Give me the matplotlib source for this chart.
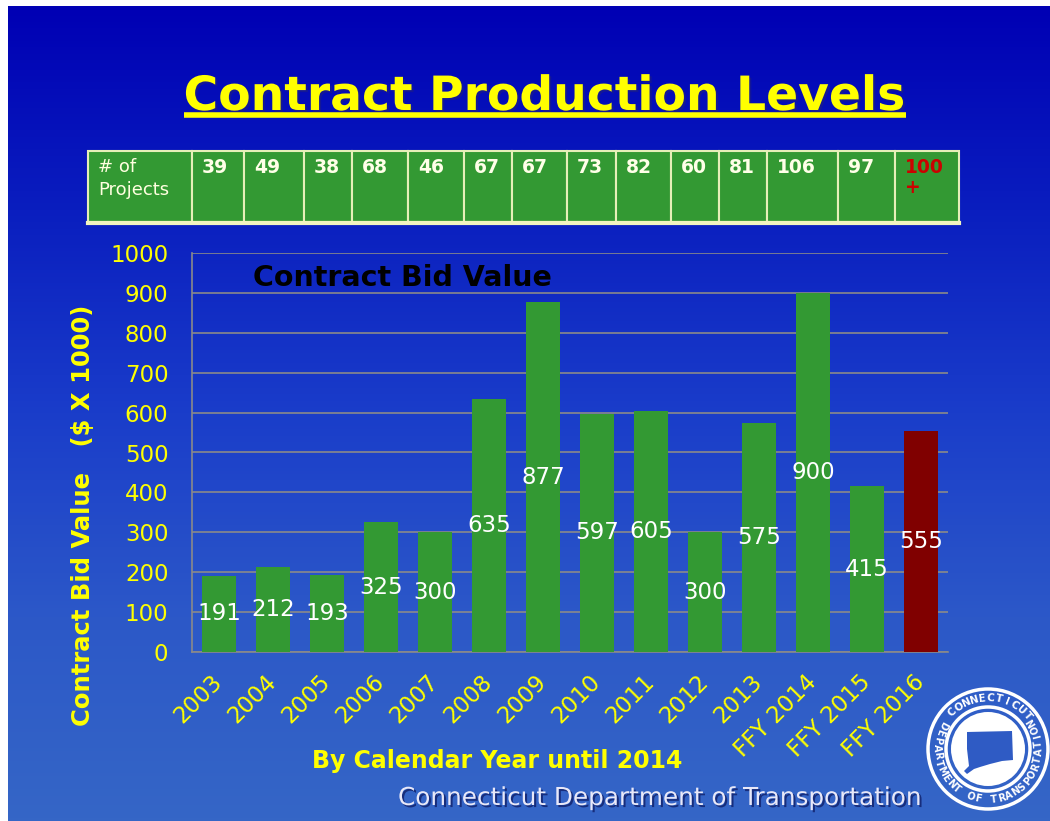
import numpy as np
import matplotlib.pyplot as plt
from matplotlib.colors import LinearSegmentedColormap
from matplotlib.patches import Rectangle, Circle, Polygon
import matplotlib.patheffects as pe

# data
years = ['2003', '2004', '2005', '2006', '2007', '2008', '2009', '2010',
         '2011', '2012', '2013', 'FFY 2014', 'FFY 2015', 'FFY 2016']
bid_values = [191, 212, 193, 325, 300, 635, 877, 597, 605, 300, 575, 900, 415, 555]
project_counts = ['39', '49', '38', '68', '46', '67', '67', '73', '82', '60',
                  '81', '106', '97', '100\n+']

W, H = 1050, 821
YELLOW = '#FFFF00'
GREEN = '#339933'
DARK_RED = '#800000'
bar_colors = [GREEN] * (len(years) - 1) + [DARK_RED]

fig = plt.figure(figsize=(W / 100, H / 100), dpi=100)

# background axes in pixel coordinates (y downwards)
bg = fig.add_axes([0, 0, 1, 1])
bg.set_xlim(0, W)
bg.set_ylim(H, 0)
bg.axis('off')
cmap = LinearSegmentedColormap.from_list(
    'slide', ['#0000B4', '#0A1EBF', '#1A3DCA', '#2C58C8', '#3566C6'])
grad = np.linspace(0, 1, 256).reshape(-1, 1)
bg.imshow(grad, cmap=cmap, extent=[8, W, H, 6], aspect='auto', zorder=0)

# title with underline
title = bg.text(545, 110, 'Contract Production Levels', ha='center', va='baseline',
                fontsize=34, fontweight='bold', color=YELLOW, zorder=5,
                path_effects=[pe.withSimplePatchShadow(offset=(1.5, -1.5),
                                                       shadow_rgbFace='#202080', alpha=0.6)])
fig.canvas.draw()
bb = title.get_window_extent(renderer=fig.canvas.get_renderer())
inv = bg.transData.inverted()
(x0, _), (x1, _) = inv.transform([(bb.x0, bb.y0), (bb.x1, bb.y0)])
bg.plot([x0, x1], [115.5, 115.5], color=YELLOW, lw=4, solid_capstyle='butt', zorder=5)

# project count table
col_edges = [88, 192, 244, 304, 352, 408, 464, 512, 567, 616, 671, 719, 767, 838, 895, 959]
top, bottom = 151, 222
edge_col = '#E6EFB8'
for i in range(len(col_edges) - 1):
    bg.add_patch(Rectangle((col_edges[i], top), col_edges[i + 1] - col_edges[i], bottom - top,
                           facecolor=GREEN, edgecolor=edge_col, lw=1.5, zorder=3))
bg.plot([col_edges[0], col_edges[-1]], [bottom + 1, bottom + 1], color='#F2F5C0', lw=3, zorder=4)
bg.text(col_edges[0] + 10, 158, '# of\nProjects', ha='left', va='top', fontsize=13,
        color='#FFFFE0', linespacing=1.35, zorder=4)
for i, cnt in enumerate(project_counts):
    is_last = i == len(project_counts) - 1
    bg.text(col_edges[i + 1] + 10, 158, cnt, ha='left', va='top', fontsize=13.5,
            fontweight='bold', color='#CC0000' if is_last else '#FFFFE8',
            linespacing=1.05, zorder=4)

# chart axes
ax = fig.add_axes([192 / W, (H - 652) / H, 756 / W, 399 / H])
ax.set_facecolor('none')
x = np.arange(len(years))
ax.bar(x, bid_values, width=0.64, color=bar_colors, zorder=3)
ax.set_xlim(-0.5, len(years) - 0.5)
ax.set_ylim(0, 1000)
ax.set_yticks(range(0, 1001, 100))
ax.yaxis.grid(True, color='#8A8A8A', lw=1.2)
ax.set_axisbelow(True)
for side in ['top', 'right']:
    ax.spines[side].set_visible(False)
for side in ['left', 'bottom']:
    ax.spines[side].set_color('#8A8A8A')
    ax.spines[side].set_linewidth(1.2)
ax.tick_params(axis='y', length=0, pad=17, labelsize=16.5, labelcolor=YELLOW)
ax.set_xticks(x)
ax.set_xticklabels(years, rotation=45, ha='right', va='center', rotation_mode='anchor')
ax.tick_params(axis='x', length=0, pad=19, labelsize=16.5, labelcolor=YELLOW)

for xi, v in zip(x, bid_values):
    ax.text(xi, v / 2, str(v), ha='center', va='center', color='white', fontsize=16.5, zorder=4)

bg.text(253, 286, 'Contract Bid Value', ha='left', va='baseline', fontsize=20.5,
        fontweight='bold', color='black', zorder=4)
bg.text(83, 515, 'Contract Bid Value   ($ X 1000)', rotation=90, ha='center', va='center',
        fontsize=17.5, fontweight='bold', color=YELLOW, zorder=4)

# footer texts
bg.text(497, 768, 'By Calendar Year until 2014', ha='center', va='baseline', fontsize=17,
        fontweight='bold', color=YELLOW, zorder=4)
bg.text(661, 805, 'Connecticut Department of Transportation', ha='center', va='baseline',
        fontsize=17.8, color='#E8E8F8', zorder=4,
        path_effects=[pe.withSimplePatchShadow(offset=(1.5, -1.5),
                                               shadow_rgbFace='#10206A', alpha=0.8)])

# seal
cx, cy = 988, 749
bg.add_patch(Circle((cx, cy), 60, facecolor='none', edgecolor='white', lw=2.5, zorder=4))
bg.add_patch(Circle((cx, cy), 42, facecolor='none', edgecolor='white', lw=2.5, zorder=4))
bg.add_patch(Circle((cx, cy), 37, facecolor='white', edgecolor='none', zorder=4))
ct_shape = np.array([(-21, -17), (24, -18), (25, 11), (14, 12), (2, 15), (-8, 18),
                     (-14, 20), (-21, 25), (-24, 22), (-19, 17), (-21, 0)])
bg.add_patch(Polygon(ct_shape + [cx, cy], closed=True, facecolor='#2F5BC4',
                     edgecolor='none', zorder=5))


def arc_text(txt, start, end, r, top_out, size):
    angles = np.linspace(start, end, len(txt))
    for ch, a in zip(txt, angles):
        rad = np.deg2rad(a)
        rot = a - 90 if top_out else a + 90
        bg.text(cx + r * np.cos(rad), cy - r * np.sin(rad), ch, rotation=rot,
                ha='center', va='center', rotation_mode='anchor', fontsize=size,
                fontweight='bold', color='white', zorder=5)


arc_text('CONNECTICUT', 134, 40, 51, True, 7.5)
arc_text('DEPARTMENT OF TRANSPORTATION', 152, 392, 51, False, 7)

fig.savefig('out.png', dpi=100)
